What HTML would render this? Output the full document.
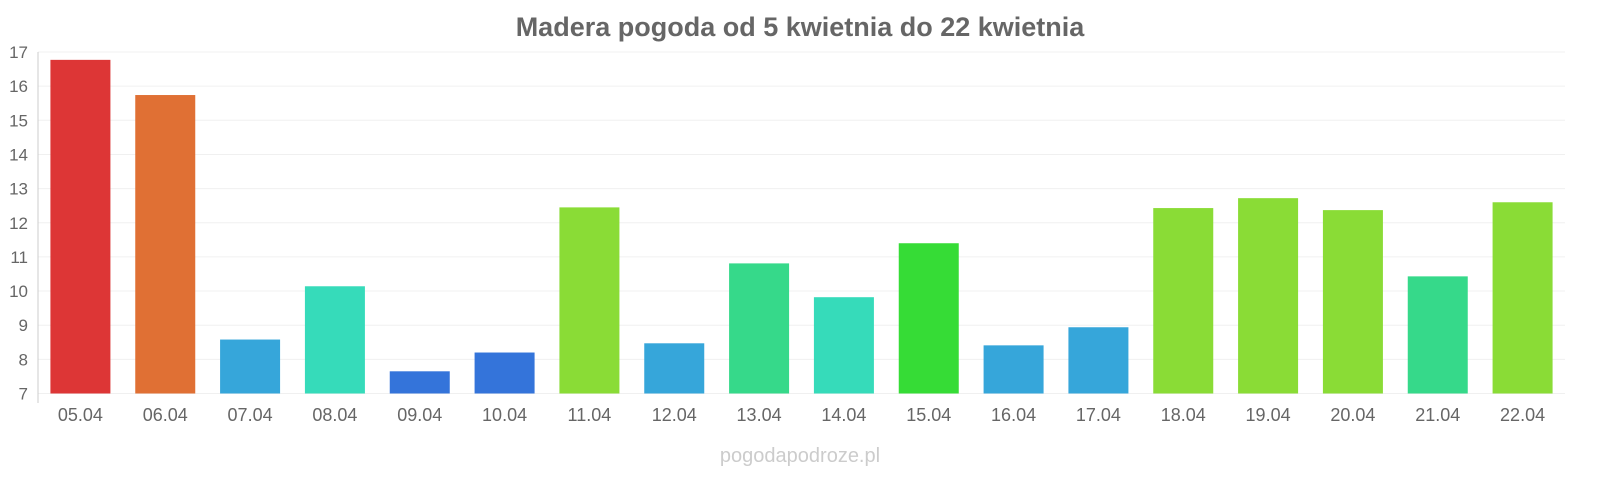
<!DOCTYPE html>
<html><head><meta charset="utf-8"><style>
body{margin:0;background:#fff;font-family:"Liberation Sans",sans-serif}
</style></head><body>
<svg id="chart" width="1600" height="480" xmlns="http://www.w3.org/2000/svg">
<text x="800" y="36" text-anchor="middle" font-size="27" font-weight="bold" fill="#666">Madera pogoda od 5 kwietnia do 22 kwietnia</text>
<text x="800" y="462" text-anchor="middle" font-size="20" fill="#ccc">pogodapodroze.pl</text>
<g id="grid"></g><g id="bars"></g><g id="labels"></g>
<line x1="38" y1="52" x2="38" y2="403" stroke="#ccc"/>
</svg>
<script>
const categories=["05.04","06.04","07.04","08.04","09.04","10.04","11.04","12.04","13.04","14.04","15.04","16.04","17.04","18.04","19.04","20.04","21.04","22.04"];
const temps=[16.77,15.74,8.58,10.14,7.65,8.2,12.45,8.47,10.81,9.82,11.4,8.41,8.94,12.43,12.72,12.37,10.43,12.6];
const colors=["#dd3636","#e07034","#36a6da","#36dbba","#3474da","#3474da","#8adc36","#36a6da","#36d98a","#36dbba","#36dc36","#36a6da","#36a6da","#8adc36","#8adc36","#8adc36","#36d98a","#8adc36"];
const yTicks=[7,8,9,10,11,12,13,14,15,16,17];
const NS="http://www.w3.org/2000/svg";
const left=38,right=1565,y0=393.5,y1=52;
const y=v=>y0-(v-7)*(y0-y1)/10;
const slot=(right-left)/categories.length;
const x=i=>left+slot*i+slot/2;
function mk(t,a,p){const e=document.createElementNS(NS,t);for(const k in a)e.setAttribute(k,a[k]);p.appendChild(e);return e;}
const g=document.getElementById('grid'),b=document.getElementById('bars'),l=document.getElementById('labels');
yTicks.forEach(v=>{
 const ln=mk('line',{x1:left,x2:right,y1:y(v),y2:y(v),stroke:'#f0f0f0'},g);
 
 
 const t=mk('text',{x:28,y:y(v)+6,'text-anchor':'end','font-size':17,fill:'#666'},l);
 t.textContent=v;
 
 
});
categories.forEach((c,i)=>{
 const r=mk('rect',{x:x(i)-30,y:y(temps[i]),width:60,height:y0-y(temps[i]),fill:colors[i]},b);
 
 
 const t=mk('text',{x:x(i),y:421,'text-anchor':'middle','font-size':18,fill:'#666'},l);
 t.textContent=c;
 
 
});
</script>
</body></html>
